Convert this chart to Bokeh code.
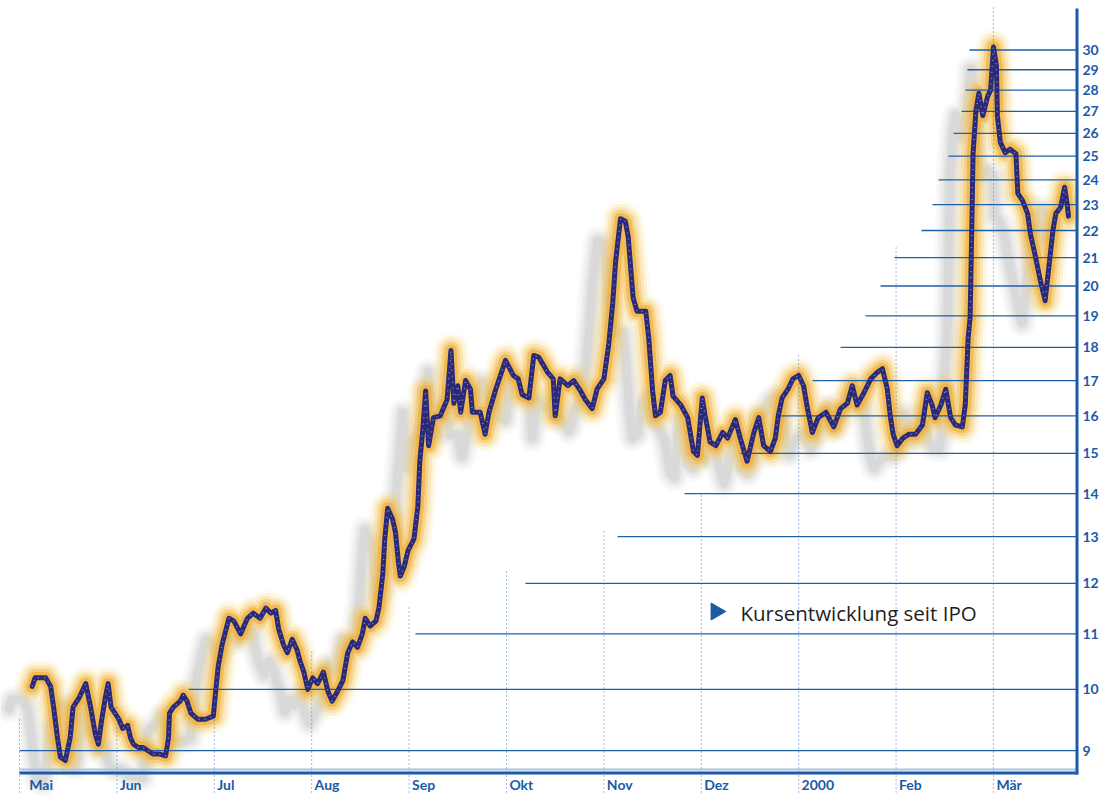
import math
from bokeh.plotting import figure
from bokeh.models import Range1d, FixedTicker, PrintfTickFormatter
from bokeh.core.properties import value
from bokeh.embed import file_html
from bokeh.resources import INLINE

# ---------------- data ----------------
# x: months since 1 May 1999 (0 = Mai ... 10 = Mär 2000); y: share price
month = [0.13, 0.16, 0.27, 0.32, 0.35, 0.39, 0.42, 0.47, 0.52, 0.55, 0.61, 0.68, 0.73, 0.78, 0.81,
         0.84, 0.88, 0.91, 0.94, 0.98, 1.02, 1.06, 1.11, 1.14, 1.17, 1.22, 1.27, 1.32, 1.37, 1.43,
         1.50, 1.53, 1.54, 1.58, 1.65, 1.68, 1.72, 1.76, 1.83, 1.91, 1.99, 2.01, 2.04, 2.08, 2.15,
         2.20, 2.27, 2.34, 2.40, 2.47, 2.53, 2.58, 2.63, 2.66, 2.71, 2.75, 2.80, 2.85, 2.88, 2.92,
         2.96, 3.01, 3.06, 3.12, 3.17, 3.21, 3.26, 3.32, 3.37, 3.42, 3.47, 3.52, 3.55, 3.60, 3.66,
         3.69, 3.73, 3.75, 3.78, 3.83, 3.86, 3.89, 3.91, 3.95, 3.99, 4.05, 4.09, 4.11, 4.14, 4.17,
         4.20, 4.25, 4.32, 4.39, 4.43, 4.46, 4.50, 4.53, 4.58, 4.63, 4.65, 4.73, 4.78, 4.82, 4.89,
         4.99, 5.07, 5.12, 5.16, 5.23, 5.28, 5.33, 5.42, 5.48, 5.50, 5.55, 5.63, 5.69, 5.76, 5.81,
         5.88, 5.93, 6.00, 6.05, 6.09, 6.12, 6.17, 6.22, 6.25, 6.27, 6.30, 6.34, 6.43, 6.46, 6.50,
         6.53, 6.58, 6.63, 6.68, 6.71, 6.79, 6.86, 6.92, 6.96, 7.01, 7.04, 7.09, 7.15, 7.22, 7.27,
         7.35, 7.40, 7.47, 7.54, 7.59, 7.64, 7.71, 7.76, 7.79, 7.83, 7.89, 7.94, 8.00, 8.05, 8.09,
         8.14, 8.20, 8.28, 8.36, 8.43, 8.50, 8.55, 8.60, 8.67, 8.74, 8.81, 8.86, 8.91, 8.94, 8.97,
         9.01, 9.07, 9.13, 9.20, 9.27, 9.32, 9.37, 9.40, 9.46, 9.51, 9.56, 9.61, 9.68, 9.71, 9.74,
         9.76, 9.78, 9.79, 9.82, 9.85, 9.89, 9.94, 9.97, 10.00, 10.03, 10.04, 10.07, 10.12, 10.17,
         10.23, 10.25, 10.30, 10.35, 10.38, 10.43, 10.48, 10.53, 10.56, 10.61, 10.64, 10.69, 10.73,
         10.76, 10.77]
price = [10.05, 10.2, 10.2, 10.05, 9.7, 9.2, 8.9, 8.85, 9.2, 9.7, 9.85, 10.1, 9.7, 9.25, 9.1,
         9.45, 9.85, 10.1, 9.7, 9.6, 9.5, 9.35, 9.4, 9.2, 9.1, 9.05, 9.05, 9.0, 8.95, 8.95,
         8.92, 9.2, 9.6, 9.7, 9.8, 9.9, 9.8, 9.6, 9.5, 9.5, 9.55, 9.9, 10.4, 10.8, 11.3,
         11.25, 11.0, 11.3, 11.4, 11.3, 11.5, 11.4, 11.45, 11.1, 10.8, 10.65, 10.9, 10.7, 10.5, 10.3,
         10.0, 10.2, 10.1, 10.3, 9.95, 9.8, 9.95, 10.15, 10.65, 10.85, 10.75, 11.0, 11.3, 11.15, 11.25,
         11.5, 12.2, 12.95, 13.65, 13.4, 13.1, 12.45, 12.15, 12.35, 12.7, 12.95, 13.7, 14.8, 15.6, 16.7,
         15.2, 15.95, 16.0, 16.45, 17.9, 16.35, 16.85, 16.1, 17.0, 16.75, 16.1, 16.1, 15.5, 16.1, 16.75,
         17.6, 17.15, 17.05, 16.6, 16.5, 17.75, 17.7, 17.25, 17.05, 16.0, 17.05, 16.85, 17.0, 16.7, 16.45,
         16.2, 16.75, 17.05, 18.1, 19.4, 20.85, 22.45, 22.35, 21.75, 20.85, 19.6, 19.15, 19.15, 18.3, 16.7,
         16.0, 16.1, 17.0, 17.15, 16.55, 16.3, 15.95, 15.05, 14.95, 16.5, 16.0, 15.3, 15.2, 15.55, 15.4,
         15.9, 15.4, 14.8, 15.55, 15.95, 15.2, 15.05, 15.4, 16.0, 16.5, 16.75, 17.05, 17.15, 16.85, 16.2,
         15.55, 15.95, 16.1, 15.7, 16.2, 16.35, 16.85, 16.3, 16.65, 17.05, 17.25, 17.35, 16.75, 16.0, 15.5,
         15.2, 15.4, 15.5, 15.5, 15.75, 16.65, 16.3, 15.95, 16.3, 16.75, 15.95, 15.75, 15.7, 16.3, 18.3,
         18.95, 22.7, 25.1, 27.05, 27.85, 26.8, 27.7, 28.0, 30.15, 29.2, 26.8, 25.6, 25.15, 25.3,
         25.1, 23.45, 23.15, 22.65, 21.85, 21.05, 20.2, 19.5, 20.4, 22.0, 22.65, 22.9, 23.7,
         22.9, 22.55]

month_ticks = list(range(11))
month_labels = ["Mai", "Jun", "Jul", "Aug", "Sep", "Okt", "Nov", "Dez", "2000", "Feb", "Mär"]
price_ticks = list(range(9, 31))

# layout helpers (pixel calibration of the reference)
def px2m(px):
    return (px - 19) / 97.4

def px2p(py):
    return math.exp((2029 - py) / 582)

# staircase: where each price grid line starts (month units), tops of month dotted lines (price)
grid_start = [px2m(v) for v in [19, 188, 415, 525, 617, 684, 740, 778, 812, 840, 865, 880, 894,
                                921, 932, 938, 948, 953, 961, 965, 967, 969]]
vline_top = [px2p(v) for v in [717, 705, 717, 651, 605, 568, 530, 492, 355, 247, 7]]

BLUE = "#1b5aa6"

p = figure(width=1107, height=799, output_backend="svg", toolbar_location=None,
           x_range=Range1d(px2m(0), px2m(1079)), y_range=Range1d(px2p(799), px2p(0)),
           y_axis_type="log", x_axis_location=None, y_axis_location="right",
           min_border_left=0, min_border_top=0, min_border_bottom=0, min_border_right=28)
p.outline_line_color = None
p.xgrid.visible = False
p.ygrid.visible = False
p.background_fill_color = "white"
p.border_fill_color = "white"

ax = p.yaxis[0]
ax.ticker = FixedTicker(ticks=price_ticks)
ax.formatter = PrintfTickFormatter(format="%d")
ax.axis_line_color = None
ax.major_tick_line_color = None
ax.minor_tick_line_color = None
ax.major_tick_out = 0
ax.major_tick_in = 0
ax.minor_tick_out = 0
ax.minor_tick_in = 0
ax.major_label_standoff = 3
ax.major_label_text_font = "Lato"
ax.major_label_text_font_style = "bold"
ax.major_label_text_font_size = "14px"
ax.major_label_text_color = BLUE

# shadow (offset, blurred gray)
sx = [m - 0.236 for m in month]
sy = [v * 0.963 for v in price]
for w, a in [(28, 0.04), (22, 0.05), (17, 0.06), (12, 0.07), (8, 0.07)]:
    p.line(sx, sy, line_color="#707070", line_width=w, line_alpha=a,
           line_join="round", line_cap="round")

# orange glow
for w, a, c in [(36, 0.10, "#f9d780"), (30, 0.16, "#f7cb62"), (24, 0.24, "#f4bf4c"),
                (18, 0.36, "#f2b53c"), (12, 0.6, "#efaa2e")]:
    p.line(month, price, line_color=c, line_width=w, line_alpha=a,
           line_join="round", line_cap="round")

# dotted month lines
x_end = px2m(1076.5)
p.segment(x0=month_ticks, y0=[px2p(792)] * 11, x1=month_ticks, y1=vline_top,
          line_color="#3d7cc9", line_width=1, line_dash="1 3")
# horizontal price lines
p.segment(x0=grid_start, y0=price_ticks, x1=[x_end] * len(price_ticks), y1=price_ticks,
          line_color="#1f5fa8", line_width=1.3)

# price line
p.line(month, price, line_color="#2a2a78", line_width=5, line_join="round", line_cap="round")
p.line(month, price, line_color="#9aa6e6", line_width=1.4, line_alpha=0.8, line_dash="1 5",
       line_join="round")

# frame lines (bottom and right)
p.segment(x0=[px2m(19)], y0=[px2p(769)], x1=[x_end], y1=[px2p(769)],
          line_color="#a9c3e2", line_width=2)
p.segment(x0=[px2m(19)], y0=[px2p(772.5)], x1=[x_end + 0.012], y1=[px2p(772.5)],
          line_color=BLUE, line_width=3)
p.segment(x0=[x_end], y0=[px2p(774)], x1=[x_end], y1=[px2p(8)],
          line_color=BLUE, line_width=3)

# month labels
lab_x = [m + (0.10 if i == 0 else 0.03) for i, m in enumerate(month_ticks)]
p.text(x=lab_x, y=[px2p(784)] * 11, text=month_labels, text_font=value("Lato"),
       text_font_style="bold", text_font_size="14px", text_color=BLUE,
       text_align="left", text_baseline="middle")

# caption
p.scatter(x=[px2m(715.5)], y=[px2p(611)], marker="triangle", size=17, angle=-math.pi / 2,
          fill_color=BLUE, line_color=BLUE)
p.text(x=[px2m(740)], y=[px2p(612)], text=["Kursentwicklung seit IPO"],
       text_font=value("Open Sans"), text_font_size="20.5px", text_color="#1e1e1e",
       text_align="left", text_baseline="middle")

open("out.html", "w").write(file_html(p, INLINE))
